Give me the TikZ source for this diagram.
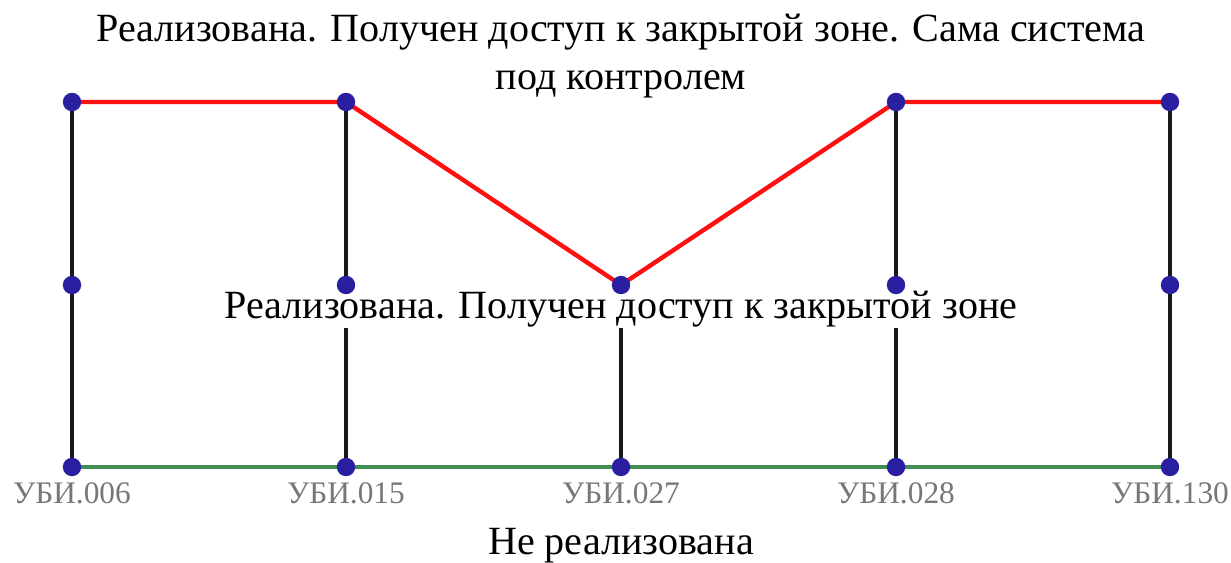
\documentclass[tikz,border=0pt]{standalone}
\usepackage{fontspec}
\setmainfont{Liberation Serif}
\usetikzlibrary{positioning}
\definecolor{dotblue}{HTML}{2A1FA0}
\definecolor{linered}{HTML}{FF1010}
\definecolor{linegreen}{HTML}{3F8F55}
\definecolor{labelgray}{HTML}{777777}

\begin{document}
\begin{tikzpicture}[
    x=0.025cm, y=-0.025cm,
    pt/.style={circle, fill=dotblue, inner sep=0pt, minimum size=4.6mm},
    vline/.style={line width=1.1mm, color=black!90},
    rline/.style={line width=1.1mm, color=linered},
    gline/.style={line width=1.1mm, color=linegreen},
    ubi/.style={font=\fontsize{22.3}{26}\selectfont, color=labelgray, below=2.6mm},
    caption/.style={font=\fontsize{28.5}{34}\selectfont, align=center},
]
\useasboundingbox (0,0) rectangle (1231,563);

% columns
\foreach \name/\x in {a/72, b/346, c/621, d/896, e/1170} {
    \coordinate (\name top) at (\x, 102);
    \coordinate (\name mid) at (\x, 285);
    \coordinate (\name bot) at (\x, 467);
}

% vertical lines
\draw[vline] (atop) -- (abot);
\draw[vline] (btop) -- (bbot);
\draw[vline] (cmid) -- (cbot);
\draw[vline] (dtop) -- (dbot);
\draw[vline] (etop) -- (ebot);

% red upper path and green lower line
\draw[rline] (atop) -- (btop) -- (cmid) -- (dtop) -- (etop);
\draw[gline] (abot) -- (ebot);

% middle caption over the lines
\node[caption, fill=white, inner sep=1pt] (midcap) at (621, 309) {Реализована. Получен доступ к закрытой зоне};

% dots
\foreach \name in {a, b, c, d, e} {
    \node[pt] at (\name bot) {};
    \node[pt] at (\name mid) {};
}
\foreach \name in {a, b, d, e}
    \node[pt] at (\name top) {};

% labels
\node[ubi] (l006) at (abot) {УБИ.006};
\node[ubi] (l015) at (bbot) {УБИ.015};
\node[ubi] (l027) at (cbot) {УБИ.027};
\node[ubi] (l028) at (dbot) {УБИ.028};
\node[ubi] (l130) at (ebot) {УБИ.130};

\node[caption] (topcap) at (621, 56) {Реализована. Получен доступ к закрытой зоне. Сама система\\под контролем};
\node[caption] (botcap) at (621, 546) {Не реализована};

\end{tikzpicture}
\end{document}
